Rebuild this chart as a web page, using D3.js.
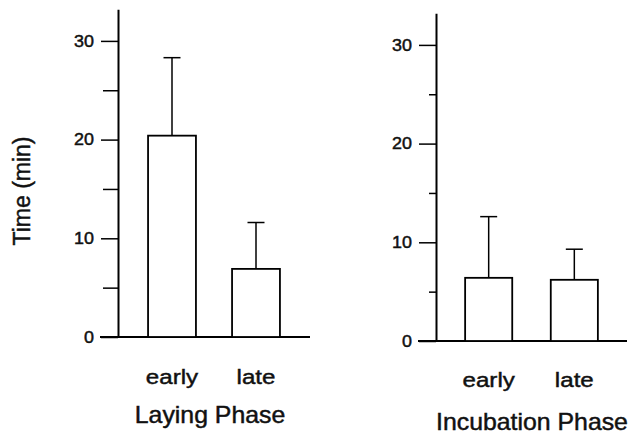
<!DOCTYPE html>
<html>
<head>
<meta charset="utf-8">
<script src="https://d3js.org/d3.v7.min.js"></script>
<style>
    body { margin: 0; background: #fff; }
    svg text { font-family: "Liberation Sans", Arial, sans-serif; fill: #111; stroke: #111; stroke-width: 0.45px; }
</style>
</head>
<body>
<script>
// values
var categories = ["early", "late"];
var layingMean = [20.4, 6.9];
var layingSE = [7.9, 4.7];
var incubMean = [6.4, 6.2];
var incubSE = [6.2, 3.1];
var majorTicks = [0, 10, 20, 30];
var minorTicks = [5, 15, 25];

var width = 634, height = 438;
var svg = d3.select("body").append("svg")
    .attr("width", width)
    .attr("height", height);

// one panel per phase
var panels = [
    { title: "Laying Phase", mean: layingMean, se: layingSE,
      axisX: 118, y0: 337, yTop: 10, baseL: 100, baseR: 310,
      bandL: 130, bandR: 298, pIn: 0.43, pOut: 0.215, minorLen: 15,
      labY: 384, titleX: 210, titleY: 423 },
    { title: "Incubation Phase", mean: incubMean, se: incubSE,
      axisX: 436, y0: 341, yTop: 13, baseL: 418, baseR: 627,
      bandL: 448, bandR: 615, pIn: 0.45, pOut: 0.2, minorLen: 7,
      labY: 387, titleX: 532, titleY: 430 }
];

var sx = 1.12; // the scan is a little stretched sideways

panels.forEach(function(p) {
    var y = d3.scaleLinear()
        .domain([0, 33.2])
        .range([p.y0, p.y0 - 33.2 * 9.87]);
    var x = d3.scaleBand()
        .domain(categories)
        .range([p.bandL, p.bandR])
        .paddingInner(p.pIn)
        .paddingOuter(p.pOut);

    var g = svg.append("g");

    // major ticks + labels
    var ax = g.append("g")
        .attr("transform", "translate(" + p.axisX + ",0)")
        .call(d3.axisLeft(y).tickValues(majorTicks).tickSize(17).tickSizeOuter(0).tickPadding(7));
    ax.select(".domain").attr("stroke", "#000").attr("stroke-width", 2);
    ax.selectAll(".tick line").attr("stroke", "#000").attr("stroke-width", 1.5);
    ax.selectAll(".tick text")
        .attr("font-size", 16)
        .attr("x", -24 / sx)
        .attr("transform", "scale(" + sx + ",1)");

    // minor ticks
    var mx = g.append("g")
        .attr("transform", "translate(" + p.axisX + ",0)")
        .call(d3.axisLeft(y).tickValues(minorTicks).tickSize(p.minorLen).tickSizeOuter(0).tickFormat(""));
    mx.select(".domain").remove();
    mx.selectAll(".tick line").attr("stroke", "#000").attr("stroke-width", 1.5);

    // baseline
    g.append("line")
        .attr("x1", p.baseL).attr("x2", p.baseR)
        .attr("y1", y(0)).attr("y2", y(0))
        .attr("stroke", "#000").attr("stroke-width", 2.2);

    // error bars (upper only)
    var capW = 17;
    categories.forEach(function(c, i) {
        var cx = x(c) + x.bandwidth() / 2;
        g.append("line")
            .attr("x1", cx).attr("x2", cx)
            .attr("y1", y(p.mean[i])).attr("y2", y(p.mean[i] + p.se[i]))
            .attr("stroke", "#000").attr("stroke-width", 1.5);
        g.append("line")
            .attr("x1", cx - capW / 2).attr("x2", cx + capW / 2)
            .attr("y1", y(p.mean[i] + p.se[i])).attr("y2", y(p.mean[i] + p.se[i]))
            .attr("stroke", "#000").attr("stroke-width", 1.5);
    });

    // bars
    g.selectAll("rect.bar")
        .data(categories)
        .enter().append("rect")
        .attr("class", "bar")
        .attr("x", function(d) { return x(d); })
        .attr("width", x.bandwidth())
        .attr("y", function(d, i) { return y(p.mean[i]); })
        .attr("height", function(d, i) { return y(0) - y(p.mean[i]); })
        .attr("fill", "#fff")
        .attr("stroke", "#000")
        .attr("stroke-width", 1.8);

    // category labels
    g.selectAll("text.cat")
        .data(categories)
        .enter().append("text")
        .attr("class", "cat")
        .attr("text-anchor", "middle")
        .attr("font-size", 21)
        .attr("transform", function(d) {
            return "translate(" + (x(d) + x.bandwidth() / 2) + "," + p.labY + ") scale(1.15,1)";
        })
        .text(function(d) { return d; });

    // phase title
    g.append("text")
        .attr("text-anchor", "middle")
        .attr("font-size", 23)
        .attr("transform", "translate(" + p.titleX + "," + p.titleY + ") scale(1.08,1)")
        .text(p.title);
});

// y axis title
svg.append("text")
    .attr("text-anchor", "middle")
    .attr("font-size", 23)
    .attr("transform", "translate(30,191) rotate(-90)")
    .text("Time (min)");
</script>
</body>
</html>
